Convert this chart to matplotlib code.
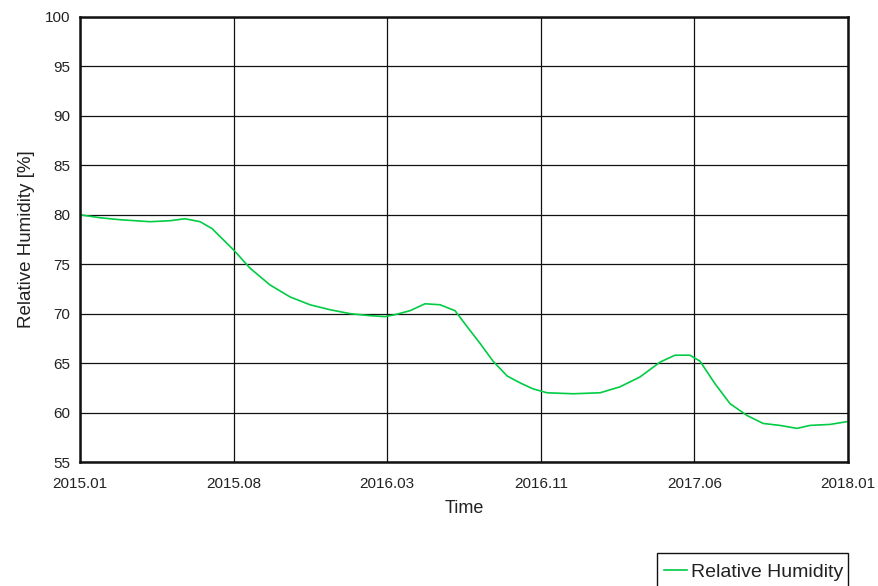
import matplotlib
matplotlib.use('Agg')
import matplotlib.pyplot as plt
from matplotlib.patches import Rectangle

# months since 2015.01 and relative humidity readings
months = [0.0, 0.94, 1.88, 3.28, 4.22, 4.92, 5.63, 6.19, 7.22, 7.97,
          8.91, 9.84, 10.78, 11.72, 12.66, 13.59, 14.30, 14.77, 15.47, 16.17,
          16.88, 17.58, 18.14, 18.75, 19.36, 20.02, 20.63, 21.23, 21.89, 23.11,
          24.38, 25.31, 26.25, 27.19, 27.89, 28.59, 29.06, 29.77, 30.47, 31.27,
          32.02, 32.81, 33.61, 34.22, 35.16, 36.0]
rh = [80.0, 79.7, 79.5, 79.3, 79.4, 79.6, 79.3, 78.6, 76.4, 74.6,
      72.9, 71.7, 70.9, 70.4, 70.0, 69.8, 69.7, 69.9, 70.3, 71.0,
      70.9, 70.3, 68.7, 67.0, 65.2, 63.7, 63.0, 62.4, 62.0, 61.9,
      62.0, 62.6, 63.6, 65.1, 65.8, 65.8, 65.2, 62.9, 60.9, 59.7,
      58.9, 58.7, 58.4, 58.7, 58.8, 59.1]

tick_labels = ['2015.01', '2015.08', '2016.03', '2016.11', '2017.06', '2018.01']
tick_pos = [i * 36 / 5 for i in range(len(tick_labels))]

plt.rcParams['font.family'] = ['Liberation Sans', 'DejaVu Sans']
text_color = '#222222'
W, H = 879, 586

fig = plt.figure(figsize=(W / 100, H / 100), dpi=100)
ax = fig.add_axes([80 / W, 1 - 462 / H, 768 / W, 445 / H])

ax.plot(months, rh, color='#00cc44', lw=1.2, label='Relative Humidity')

ax.set_xlim(0, 36)
ax.set_ylim(55, 100)
ax.set_xticks(tick_pos)
ax.set_xticklabels(tick_labels)
ax.set_yticks(range(55, 101, 5))
ax.tick_params(length=0, labelsize=11, colors=text_color)
ax.tick_params(axis='x', pad=11)
ax.tick_params(axis='y', pad=7)
ax.grid(True, color='#111111', lw=0.9)
for s in ax.spines.values():
    s.set_linewidth(1.8)
    s.set_color('#111111')

ax.set_xlabel('Time', fontsize=13, color=text_color, labelpad=6)
ax.set_ylabel('Relative Humidity [%]', fontsize=13.5, color=text_color, labelpad=7)

# legend sits in an open-bottomed box at the lower right
leg = fig.legend(loc='center right', bbox_to_anchor=(843 / W, 1 - 572 / H),
                 fontsize=14, frameon=False, handlelength=1.15,
                 handletextpad=0.2, borderaxespad=0, borderpad=0)
for t in leg.get_texts():
    t.set_color(text_color)
fig.patches.append(Rectangle((657 / W, -0.02), 191 / W, 0.02 + (H - 553) / H,
                             transform=fig.transFigure, fill=False,
                             edgecolor='#111111', lw=1.0))

fig.savefig('out.png', dpi=100)
